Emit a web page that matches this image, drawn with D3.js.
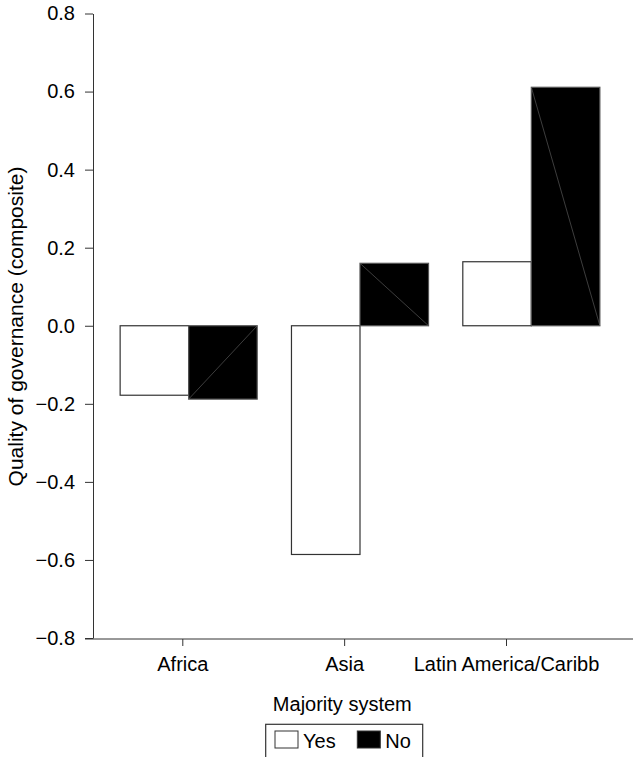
<!DOCTYPE html>
<html>
<head>
<meta charset="utf-8">
<script src="https://cdn.jsdelivr.net/npm/d3@7"></script>
<style>
  html, body { margin: 0; padding: 0; background: #fff; }
  svg { display: block; font-family: "Liberation Sans", Arial, sans-serif; }
</style>
</head>
<body>
<svg id="chart" width="633" height="757"></svg>
<script>
const regions = ['Africa', 'Asia', 'Latin America/Caribb'];
const systems = ['Yes', 'No'];
const yesValues = [-0.178, -0.586, 0.164];
const noValues = [-0.188, 0.160, 0.611];
const yTicks = [-0.8, -0.6, -0.4, -0.2, 0.0, 0.2, 0.4, 0.6, 0.8];

const data = regions.map((r, i) => ({ region: r, values: [
  { key: 'Yes', v: yesValues[i] }, { key: 'No', v: noValues[i] }
] }));

const svg = d3.select('#chart');
const fs = 20;
const axisColor = '#333';

const y = d3.scaleLinear().domain([-0.8, 0.8]).range([638, 13.5]);
const x = d3.scaleBand().domain(regions).range([103, 617]).paddingInner(0.2).paddingOuter(0.1);
const xSub = d3.scaleBand().domain(systems).range([0, x.bandwidth()]);
// category ticks sit slightly left of the bar groups, as in the original
const xTick = d3.scalePoint().domain(regions).range([182.3, 506]);

// y axis
const yAxis = svg.append('g').attr('transform', 'translate(93,0)')
  .call(d3.axisLeft(y).tickValues(yTicks).tickFormat(d3.format('.1f')).tickSize(8).tickPadding(10).tickSizeOuter(0));
yAxis.select('.domain').attr('stroke', axisColor);
yAxis.selectAll('.tick line').attr('stroke', axisColor);
yAxis.selectAll('text').attr('font-size', fs).attr('font-family', null).attr('fill', '#000');

// x axis
const xAxis = svg.append('g').attr('transform', 'translate(0,639)')
  .call(d3.axisBottom(xTick).tickSize(7).tickSizeOuter(0));
xAxis.select('.domain').remove();
xAxis.append('line').attr('x1', 85).attr('x2', 633).attr('stroke', axisColor);
xAxis.selectAll('.tick line').attr('stroke', axisColor);
xAxis.selectAll('text').attr('font-size', fs).attr('font-family', null).attr('fill', '#000')
  .attr('dy', null).attr('y', 32);

// bars
const groups = svg.append('g').selectAll('g').data(data).enter().append('g')
  .attr('transform', d => `translate(${x(d.region)},0)`);

groups.selectAll('rect').data(d => d.values).enter().append('rect')
  .attr('x', d => xSub(d.key))
  .attr('y', d => Math.min(y(d.v), y(0)))
  .attr('width', xSub.bandwidth())
  .attr('height', d => Math.abs(y(d.v) - y(0)))
  .attr('fill', d => d.key === 'Yes' ? '#fff' : '#000')
  .attr('stroke', d => d.key === 'Yes' ? '#333' : '#555')
  .attr('stroke-width', 1.2);

groups.selectAll('line.diag').data(d => d.values.filter(v => v.key === 'No')).enter().append('line')
  .attr('class', 'diag')
  .attr('x1', d => xSub(d.key)).attr('y1', d => y(d.v))
  .attr('x2', d => xSub(d.key) + xSub.bandwidth()).attr('y2', y(0))
  .attr('stroke', '#666').attr('stroke-width', 0.6);

// axis titles
svg.append('text').attr('transform', 'translate(23,326.5) rotate(-90)')
  .attr('text-anchor', 'middle').attr('font-size', 21).attr('fill', '#000')
  .text('Quality of governance (composite)');

svg.append('text').attr('x', 342.3).attr('y', 711).attr('text-anchor', 'middle')
  .attr('font-size', fs).attr('fill', '#000').text('Majority system');

// legend
const legend = svg.append('g');
legend.append('rect').attr('x', 265.7).attr('y', 724.3).attr('width', 157).attr('height', 40)
  .attr('fill', 'none').attr('stroke', axisColor).attr('stroke-width', 1.2);
const legX = [275, 357.3];
legend.selectAll('rect.sw').data(systems).enter().append('rect').attr('class', 'sw')
  .attr('x', (d, i) => legX[i]).attr('y', 731).attr('width', 23).attr('height', 17)
  .attr('fill', d => d === 'Yes' ? '#fff' : '#000').attr('stroke', '#333').attr('stroke-width', 1);
legend.selectAll('text').data(systems).enter().append('text')
  .attr('x', (d, i) => legX[i] + 28).attr('y', 748)
  .attr('font-size', fs).attr('fill', '#000').text(d => d);
</script>
</body>
</html>
